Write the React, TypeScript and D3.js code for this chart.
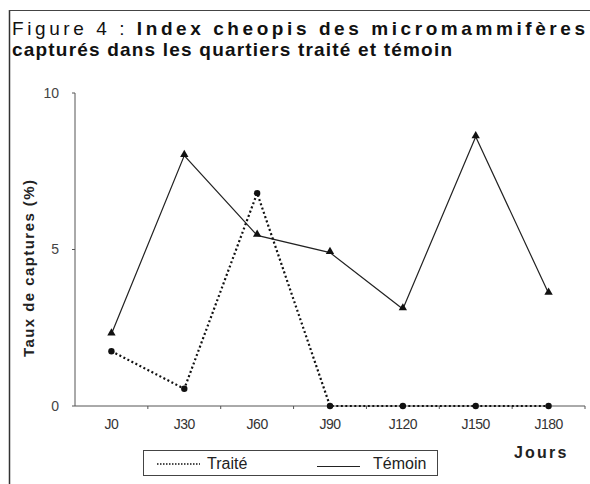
import React from 'react';
import * as d3 from 'd3';

const jours = ['J0', 'J30', 'J60', 'J90', 'J120', 'J150', 'J180'];
const traite = [1.75, 0.55, 6.8, 0, 0, 0, 0];
const temoin = [2.3, 8.0, 5.45, 4.9, 3.1, 8.6, 3.6];
const yTicks = [0, 5, 10];

const App = () => {
    const width = 590, height = 484;
    const left = 75, right = 585, top = 93, bottom = 406;

    const x = d3.scalePoint<string>().domain(jours).range([left, right]).padding(0.5);
    const y = d3.scaleLinear().domain([0, 10]).range([bottom, top]);
    const step = x.step();

    const line = d3.line<number>()
        .x((d, i) => x(jours[i]) as number)
        .y(d => y(d));

    const tri = d3.symbol().type(d3.symbolTriangle).size(30)();
    const font = '"Liberation Sans", Arial, sans-serif';

    // minor ticks between categories on the x axis
    const xMinor = d3.range(1, jours.length + 1).map(i => left + i * step);

    return (
        <svg width={width} height={height} style={{ position: 'absolute', left: 0, top: 0, background: '#fff' }}>
            <rect width={width} height={height} fill="#fff" />
            {/* frame */}
            <line x1={9.5} x2={9.5} y1={10} y2={height} stroke="#333" strokeWidth={1.5} />
            <line x1={9} x2={width} y1={10.5} y2={10.5} stroke="#444" strokeWidth={1} />

            {/* title */}
            <text x={12} y={35} fontFamily={font} fontSize={19} fontWeight="bold" fill="#111" textLength={573} lengthAdjust="spacing">
                <tspan fontWeight="normal">Figure 4 :</tspan> Index cheopis des micromammifères
            </text>
            <text x={12} y={56} fontFamily={font} fontSize={19} fontWeight="bold" fill="#111" textLength={440} lengthAdjust="spacing">
                capturés dans les quartiers traité et témoin
            </text>

            {/* y axis */}
            <line x1={left} x2={left} y1={top} y2={bottom} stroke="#555" strokeWidth={1} />
            {yTicks.map(t => (
                <g key={t}>
                    <line x1={left - 3} x2={left} y1={y(t)} y2={y(t)} stroke="#555" />
                    <text x={59} y={y(t)} dy="0.35em" textAnchor="end" fontFamily={font} fontSize={14} fill="#444">{t}</text>
                </g>
            ))}
            <text transform={`translate(34,${(180 + 357) / 2}) rotate(-90)`} textAnchor="middle"
                fontFamily={font} fontSize={15} fontWeight="bold" fill="#222" textLength={177} lengthAdjust="spacing">
                Taux de captures (%)
            </text>

            {/* x axis */}
            <line x1={left} x2={right} y1={bottom} y2={bottom} stroke="#555" strokeWidth={1} />
            {xMinor.map((m, i) => (
                <line key={i} x1={m} x2={m} y1={bottom} y2={bottom + 3} stroke="#555" />
            ))}
            {jours.map(j => (
                <text key={j} x={x(j)} y={429} textAnchor="middle" fontFamily={font} fontSize={14} fill="#333" letterSpacing={-0.5}>{j}</text>
            ))}
            <text x={514} y={458} fontFamily={font} fontSize={16} fontWeight="bold" fill="#222" letterSpacing={2.2}>Jours</text>

            {/* Témoin */}
            <path d={line(temoin) as string} fill="none" stroke="#222" strokeWidth={1.2} />
            {temoin.map((v, i) => (
                <path key={i} d={tri as string} transform={`translate(${x(jours[i])},${y(v) - 1})`} fill="#111" />
            ))}

            {/* Traité */}
            <path d={line(traite) as string} fill="none" stroke="#111" strokeWidth={2.2} strokeDasharray="2,2.5" />
            {traite.map((v, i) => (
                <circle key={i} cx={x(jours[i])} cy={y(v)} r={3.2} fill="#111" />
            ))}

            {/* legend */}
            <rect x={143.5} y={450.5} width={294} height={25} fill="none" stroke="#444" strokeWidth={1} />
            <line x1={157} x2={200} y1={464} y2={464} stroke="#111" strokeWidth={1.5} strokeDasharray="1.5,1.5" />
            <text x={207} y={469} fontFamily={font} fontSize={16} fill="#222">Traité</text>
            <line x1={317} x2={360} y1={466.5} y2={466.5} stroke="#222" strokeWidth={1} />
            <text x={373} y={469} fontFamily={font} fontSize={16} fill="#222">Témoin</text>
        </svg>
    );
};

export default App;
